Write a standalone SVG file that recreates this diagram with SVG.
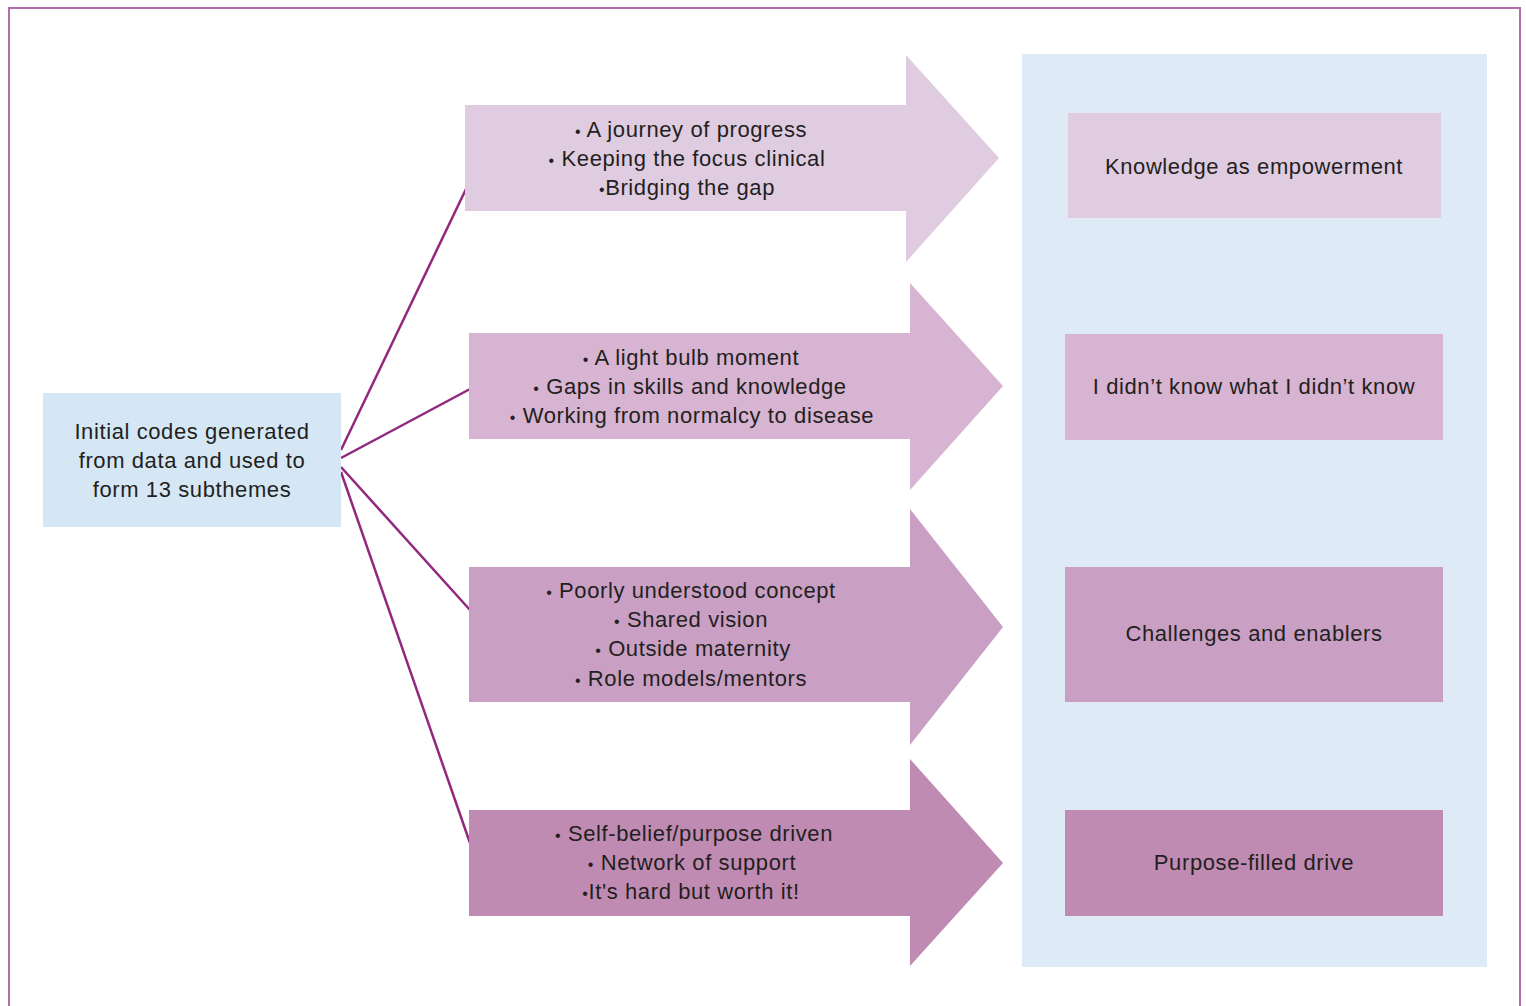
<svg xmlns="http://www.w3.org/2000/svg" width="1526" height="1006" viewBox="0 0 1526 1006">
<style>
text{font-family:"Liberation Sans",Arial,sans-serif;font-size:22px;letter-spacing:0.6px;fill:#231f20;text-anchor:middle}
.b{font-size:16px}
.conn{stroke:#92287e;stroke-width:2.5;fill:none}
.c1{fill:#e0cce0}.c2{fill:#d7b4d1}.c3{fill:#c9a0c4}.c4{fill:#c08bb2}
</style>
<rect x="0" y="0" width="1526" height="1006" fill="#fff"/>
<path d="M9 1006V8H1520V1006" fill="none" stroke="#b06fa6" stroke-width="2"/>
<rect id="panel" x="1022" y="54" width="465" height="913" fill="#deebf7"/>
<g id="connectors">
<line class="conn" x1="341" y1="450" x2="466" y2="189"/>
<line class="conn" x1="341" y1="458" x2="470" y2="389"/>
<line class="conn" x1="341" y1="467" x2="470" y2="610"/>
<line class="conn" x1="341" y1="472" x2="470" y2="843"/>
</g>
<g id="source">
<rect x="43" y="393" width="298" height="134" fill="#d5e7f5"/>
<text x="192" y="439">Initial codes generated</text>
<text x="192" y="468">from data and used to</text>
<text x="192" y="497">form 13 subthemes</text>
</g>
<g id="arrow1">
<path class="c1" d="M465 105H906V55L999 158L906 262V211H465Z"/>
<text x="691" y="137"><tspan class="b">•</tspan> A journey of progress</text>
<text x="687" y="166"><tspan class="b">•</tspan> Keeping the focus clinical</text>
<text x="687" y="195"><tspan class="b">•</tspan>Bridging the gap</text>
</g>
<g id="arrow2">
<path class="c2" d="M469 333H910V283L1003 386L910 490V439H469Z"/>
<text x="691" y="365"><tspan class="b">•</tspan> A light bulb moment</text>
<text x="690" y="394"><tspan class="b">•</tspan> Gaps in skills and knowledge</text>
<text x="692" y="423"><tspan class="b">•</tspan> Working from normalcy to disease</text>
</g>
<g id="arrow3">
<path class="c3" d="M469 567H910V509L1003 627L910 745V702H469Z"/>
<text x="691" y="598"><tspan class="b">•</tspan> Poorly understood concept</text>
<text x="691" y="627"><tspan class="b">•</tspan> Shared vision</text>
<text x="693" y="656"><tspan class="b">•</tspan> Outside maternity</text>
<text x="691" y="686"><tspan class="b">•</tspan> Role models/mentors</text>
</g>
<g id="arrow4">
<path class="c4" d="M469 810H910V759L1003 863L910 966V916H469Z"/>
<text x="694" y="841"><tspan class="b">•</tspan> Self-belief/purpose driven</text>
<text x="692" y="870"><tspan class="b">•</tspan> Network of support</text>
<text x="691" y="899"><tspan class="b">•</tspan>It's hard but worth it!</text>
</g>
<g id="theme1">
<rect class="c1" x="1068" y="113" width="373" height="105"/>
<text x="1254" y="174">Knowledge as empowerment</text>
</g>
<g id="theme2">
<rect class="c2" x="1065" y="334" width="378" height="106"/>
<text x="1254" y="394">I didn’t know what I didn’t know</text>
</g>
<g id="theme3">
<rect class="c3" x="1065" y="567" width="378" height="135"/>
<text x="1254" y="641">Challenges and enablers</text>
</g>
<g id="theme4">
<rect class="c4" x="1065" y="810" width="378" height="106"/>
<text x="1254" y="870">Purpose-filled drive</text>
</g>
</svg>
